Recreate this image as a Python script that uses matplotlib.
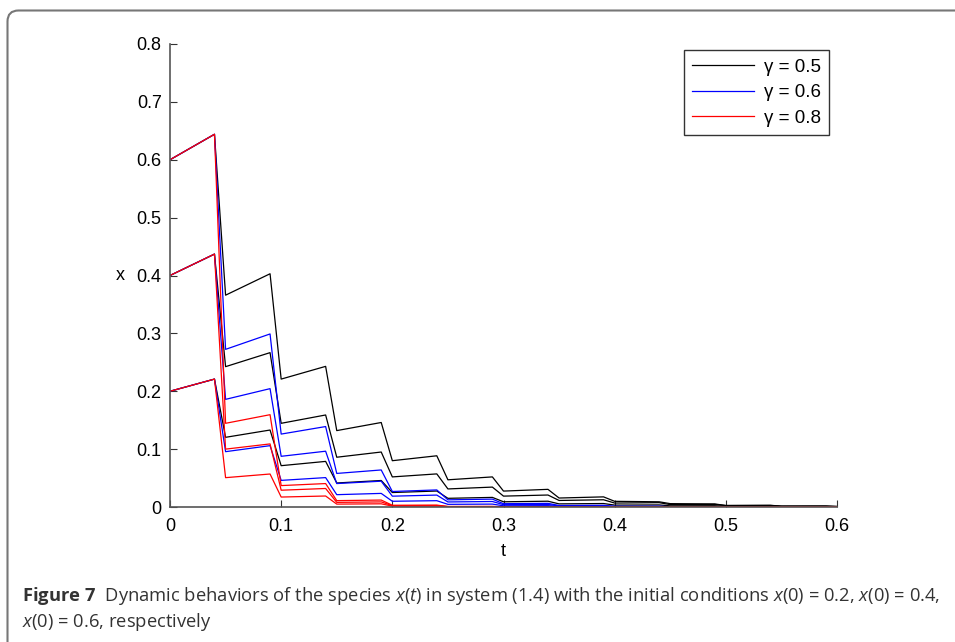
import matplotlib
matplotlib.use("Agg")
import matplotlib.pyplot as plt
from matplotlib.patches import FancyBboxPatch
from matplotlib.transforms import IdentityTransform

# time points (pulse at every 0.05)
t = [0.00, 0.04, 0.05, 0.09, 0.10, 0.14, 0.15, 0.19, 0.20, 0.24, 0.25, 0.29, 0.30,
     0.34, 0.35, 0.39, 0.40, 0.44, 0.45, 0.49, 0.50, 0.54, 0.55, 0.59, 0.60]

# gamma = 0.5 (black)
g05_x06 = [0.600, 0.644, 0.366, 0.403, 0.221, 0.243, 0.132, 0.146, 0.0800, 0.0885, 0.0470, 0.0520,
           0.0275, 0.0305, 0.0155, 0.0175, 0.0098, 0.0090, 0.0058, 0.0053, 0.0026, 0.0029, 0.0016,
           0.0017, 0.0009]
g05_x04 = [0.400, 0.437, 0.2425, 0.2667, 0.1446, 0.159, 0.0860, 0.0950, 0.0520, 0.0572, 0.0312,
           0.0344, 0.0188, 0.0207, 0.0113, 0.0125, 0.0068, 0.0075, 0.0041, 0.0045, 0.0025, 0.0027,
           0.0015, 0.0016, 0.0009]
g05_x02 = [0.200, 0.221, 0.1204, 0.1330, 0.0714, 0.0788, 0.0415, 0.0458, 0.0250, 0.0276, 0.0150,
           0.0166, 0.0090, 0.0100, 0.0054, 0.0060, 0.0033, 0.0036, 0.0020, 0.0022, 0.0012, 0.0013,
           0.0007, 0.0008, 0.0004]

# gamma = 0.6 (blue)
g06_x06 = [0.600, 0.644, 0.2724, 0.299, 0.126, 0.139, 0.058, 0.064, 0.0268, 0.0295, 0.0124, 0.0136,
           0.0057, 0.0063, 0.0026, 0.0029, 0.0012, 0.0013, 0.00056, 0.00062, 0.00026, 0.00029,
           0.00012, 0.00013, 0.00006]
g06_x04 = [0.400, 0.437, 0.186, 0.2045, 0.0876, 0.0964, 0.0405, 0.0446, 0.0187, 0.0206, 0.0087,
           0.0095, 0.0040, 0.0044, 0.0018, 0.0020, 0.00085, 0.00094, 0.0004, 0.00043, 0.00018,
           0.0002, 0.00008, 0.00009, 0.00004]
g06_x02 = [0.200, 0.221, 0.0956, 0.106, 0.046, 0.0508, 0.0213, 0.0235, 0.0099, 0.0109, 0.0046,
           0.0050, 0.0021, 0.0023, 0.00097, 0.0011, 0.00045, 0.0005, 0.0002, 0.00023, 0.0001,
           0.0001, 0.00004, 0.00005, 0.00002]

# gamma = 0.8 (red)
g08_x06 = [0.600, 0.644, 0.1446, 0.1595, 0.0370, 0.0405, 0.0110, 0.0120, 0.0030, 0.0033, 0.0009,
           0.0010, 0.0003, 0.0003, 0.0001, 0.0001, 0.0, 0.0, 0.0, 0.0, 0.0, 0.0, 0.0, 0.0, 0.0]
g08_x04 = [0.400, 0.437, 0.100, 0.109, 0.0290, 0.0320, 0.0080, 0.0088, 0.0023, 0.0025, 0.0007,
           0.00077, 0.0002, 0.0002, 0.00005, 0.00006, 0.0, 0.0, 0.0, 0.0, 0.0, 0.0, 0.0, 0.0, 0.0]
g08_x02 = [0.200, 0.221, 0.0507, 0.057, 0.0172, 0.0190, 0.0050, 0.0055, 0.0015, 0.0016, 0.00045,
           0.0005, 0.00013, 0.00014, 0.00004, 0.00004, 0.0, 0.0, 0.0, 0.0, 0.0, 0.0, 0.0, 0.0, 0.0]

series = [
    ("k", [g05_x06, g05_x04, g05_x02]),
    ("#0000ff", [g06_x06, g06_x04, g06_x02]),
    ("#ff0000", [g08_x06, g08_x04, g08_x02]),
]
legend_labels = ["\u03b3 = 0.5", "\u03b3 = 0.6", "\u03b3 = 0.8"]
yticks = [0, 0.1, 0.2, 0.3, 0.4, 0.5, 0.6, 0.7, 0.8]
ytick_labels = ["0", "0.1", "0.2", "0.3", "0.4", "0.5", "0.6", "0.7", "0.8"]
xticks = [0, 0.1, 0.2, 0.3, 0.4, 0.5, 0.6]
xtick_labels = ["0", "0.1", "0.2", "0.3", "0.4", "0.5", "0.6"]

plt.rcParams['font.family'] = ['Liberation Sans', 'DejaVu Sans']
plt.rcParams['mathtext.fontset'] = 'custom'
plt.rcParams['mathtext.rm'] = 'Open Sans'
plt.rcParams['mathtext.it'] = 'Open Sans:italic'
plt.rcParams['mathtext.bf'] = 'Open Sans:bold'

fig = plt.figure(figsize=(9.55, 6.42), dpi=100)
ax = fig.add_axes([170/955, 1-507/642, 667/955, 463/642])

for (col, lines), leg in zip(series, legend_labels):
    for i, y in enumerate(lines):
        ax.plot(t, y, color=col, lw=0.9, label=leg if i == 0 else None)

ax.set_xlim(0, 0.6)
ax.set_ylim(0, 0.8)
ax.set_xticks(xticks)
ax.set_xticklabels(xtick_labels)
ax.set_yticks(yticks)
ax.set_yticklabels(ytick_labels)
for s in ['top', 'right']:
    ax.spines[s].set_visible(False)
for s in ['left', 'bottom']:
    ax.spines[s].set_color('#555555')
    ax.spines[s].set_linewidth(1.2)
ax.tick_params(direction='in', length=5, width=0.8, color='#333333', labelsize=13)
ax.tick_params(axis='x', pad=8)
ax.tick_params(axis='y', pad=6)
ax.set_xlabel("t", fontsize=13, labelpad=6)
ax.set_ylabel("x", fontsize=13, labelpad=12, rotation=0, va='center')

leg = ax.legend(loc='upper right', bbox_to_anchor=(829/955, 1-50/642), bbox_transform=fig.transFigure,
                fontsize=13.5, handlelength=3.3, frameon=True, fancybox=False, borderaxespad=0,
                borderpad=0.45, labelspacing=0.45, handletextpad=0.5)
leg.get_frame().set_edgecolor('k')
leg.get_frame().set_linewidth(1.0)

# caption
fig.text(22/955, 1-596/642,
         r"$\mathbf{Figure\ 7}$  Dynamic behaviors of the species $\mathit{x}$($\mathit{t}$) in system (1.4) "
         r"with the initial conditions $\mathit{x}$(0) = 0.2, $\mathit{x}$(0) = 0.4,",
         fontsize=13.2, family='Open Sans', color='#333333', va='center', ha='left')
fig.text(22/955, 1-622/642, r"$\mathit{x}$(0) = 0.6, respectively",
         fontsize=13.2, family='Open Sans', color='#333333', va='center', ha='left')

# rounded frame around figure
frame = FancyBboxPatch((7.5, -60), 1100, 642 - 10.5 + 60,
                       boxstyle="round,pad=0,rounding_size=11",
                       transform=IdentityTransform(), fill=False,
                       edgecolor='#777777', lw=1.5)
fig.patches.append(frame)

fig.savefig("out.png", dpi=100)
